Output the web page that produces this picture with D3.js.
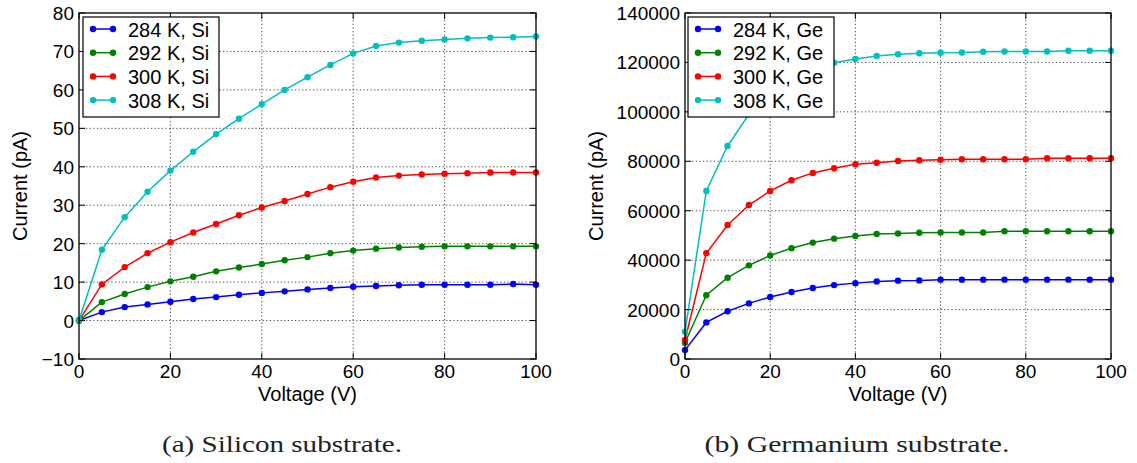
<!DOCTYPE html>
<html>
<head>
  <meta charset="utf-8">
  <title>Current vs voltage</title>
</head>
<style>
  body, html { margin: 0; padding: 0; background: #fff; }
  svg text { fill: #000; }
</style>
<body>
<svg id="svg" width="1137" height="463"></svg>
<script src="https://d3js.org/d3.v7.min.js"></script>
<script>
  // data
  const voltage = [0, 5, 10, 15, 20, 25, 30, 35, 40, 45, 50, 55, 60, 65, 70, 75, 80, 85, 90, 95, 100]
  const temps = ['284 K', '292 K', '300 K', '308 K']
  const colors = ['#0000ff', '#008000', '#ff0000', '#00bfbf']

  const si284 = [0, 2.2, 3.5, 4.2, 4.9, 5.6, 6.1, 6.7, 7.2, 7.6, 8.1, 8.5, 8.8, 9.0, 9.2, 9.3, 9.3, 9.3, 9.3, 9.5, 9.3]
  const si292 = [0, 4.8, 6.9, 8.7, 10.2, 11.4, 12.8, 13.8, 14.7, 15.7, 16.5, 17.5, 18.2, 18.7, 19.0, 19.2, 19.3, 19.3, 19.3, 19.3, 19.3]
  const si300 = [0, 9.4, 13.9, 17.5, 20.4, 22.9, 25.1, 27.4, 29.4, 31.1, 32.9, 34.7, 36.1, 37.2, 37.7, 38.0, 38.2, 38.3, 38.5, 38.5, 38.5]
  const si308 = [0, 18.4, 26.9, 33.5, 39.0, 43.9, 48.5, 52.5, 56.3, 60.0, 63.3, 66.5, 69.5, 71.4, 72.3, 72.8, 73.1, 73.4, 73.6, 73.7, 73.9]

  const ge284 = [3600, 14800, 19300, 22500, 25100, 27100, 28700, 29900, 30700, 31400, 31700, 31800, 32100, 32100, 32100, 32100, 32100, 32100, 32100, 32100, 32100]
  const ge292 = [6600, 25800, 32900, 37900, 41900, 44800, 47100, 48700, 49800, 50600, 50800, 51100, 51200, 51200, 51200, 51700, 51700, 51700, 51700, 51700, 51700]
  const ge300 = [7700, 42800, 54200, 62300, 68000, 72300, 75300, 77200, 78800, 79400, 80100, 80400, 80600, 80800, 80800, 80800, 80800, 81200, 81200, 81200, 81200]
  const ge308 = [11000, 68000, 86200, 99000, 106500, 111500, 116000, 119900, 121400, 122600, 123300, 123700, 123900, 124000, 124300, 124400, 124400, 124400, 124700, 124700, 124700]

  const xTicks = [0, 20, 40, 60, 80, 100]
  const siTicks = [-10, 0, 10, 20, 30, 40, 50, 60, 70, 80]
  const geTicks = [0, 20000, 40000, 60000, 80000, 100000, 120000, 140000]

  const svg = d3.select('#svg')
  const sans = 'Liberation Sans, Arial, Helvetica, sans-serif'

  function drawPanel(p) {
    const x = d3.scaleLinear().domain([0, 100]).range([p.left, p.right])
    const y = d3.scaleLinear().domain([p.yTicks[0], p.yTicks[p.yTicks.length - 1]]).range([359, 13])
    const g = svg.append('g')

    // grid
    g.selectAll('.gx').data(xTicks.slice(1, -1)).enter().append('line')
      .attr('x1', d => x(d)).attr('x2', d => x(d))
      .attr('y1', y.range()[1]).attr('y2', y.range()[0])
      .attr('stroke', '#444').attr('stroke-width', 1).attr('stroke-dasharray', '1.2,2.4')
    g.selectAll('.gy').data(p.yTicks.slice(1, -1)).enter().append('line')
      .attr('x1', p.left).attr('x2', p.right)
      .attr('y1', d => y(d)).attr('y2', d => y(d))
      .attr('stroke', '#444').attr('stroke-width', 1).attr('stroke-dasharray', '1.2,2.4')

    // lines + markers
    const line = d3.line().x((d, i) => x(voltage[i])).y(d => y(d))
    p.series.forEach((s, k) => {
      g.append('path').attr('d', line(s))
        .attr('fill', 'none').attr('stroke', colors[k]).attr('stroke-width', 1.5)
      g.selectAll(null).data(s).enter().append('circle')
        .attr('cx', (d, i) => x(voltage[i])).attr('cy', d => y(d)).attr('r', 3.2)
        .attr('fill', colors[k])
    })

    // frame + inward ticks on all sides
    g.append('rect').attr('x', p.left).attr('y', 13)
      .attr('width', p.right - p.left).attr('height', 346)
      .attr('fill', 'none').attr('stroke', '#000').attr('stroke-width', 1.3)
    const tl = 6
    xTicks.forEach(t => {
      g.append('line').attr('x1', x(t)).attr('x2', x(t)).attr('y1', 359).attr('y2', 359 - tl).attr('stroke', '#000')
      g.append('line').attr('x1', x(t)).attr('x2', x(t)).attr('y1', 13).attr('y2', 13 + tl).attr('stroke', '#000')
    })
    p.yTicks.forEach(t => {
      g.append('line').attr('x1', p.left).attr('x2', p.left + tl).attr('y1', y(t)).attr('y2', y(t)).attr('stroke', '#000')
      g.append('line').attr('x1', p.right).attr('x2', p.right - tl).attr('y1', y(t)).attr('y2', y(t)).attr('stroke', '#000')
    })

    // tick labels
    g.selectAll('.xl').data(xTicks).enter().append('text')
      .attr('x', d => x(d)).attr('y', 378).attr('text-anchor', 'middle')
      .style('font', '19px ' + sans).text(d => d)
    g.selectAll('.yl').data(p.yTicks).enter().append('text')
      .attr('x', p.left - 5).attr('y', d => y(d) + 7).attr('text-anchor', 'end')
      .style('font', '19px ' + sans).text(d => d3.format('d')(d))

    // axis labels
    g.append('text').attr('x', (p.left + p.right) / 2).attr('y', 401)
      .attr('text-anchor', 'middle').style('font', '20px ' + sans).text('Voltage (V)')
    g.append('text').attr('transform', `translate(${p.ylabX},186) rotate(-90)`)
      .attr('text-anchor', 'middle').style('font', '20px ' + sans).text('Current (pA)')

    // legend
    const lg = g.append('g').attr('transform', `translate(${p.legX},17)`)
    lg.append('rect').attr('width', p.legW).attr('height', 100)
      .attr('fill', '#fff').attr('stroke', '#000').attr('stroke-width', 1.2)
    temps.forEach((t, k) => {
      const yy = 12 + k * 23.7
      lg.append('line').attr('x1', 10).attr('x2', 30).attr('y1', yy).attr('y2', yy)
        .attr('stroke', colors[k]).attr('stroke-width', 1.5)
      lg.append('circle').attr('cx', 10).attr('cy', yy).attr('r', 3.2).attr('fill', colors[k])
      lg.append('circle').attr('cx', 30).attr('cy', yy).attr('r', 3.2).attr('fill', colors[k])
      lg.append('text').attr('x', 45).attr('y', yy + 7.5)
        .style('font', '20px ' + sans).text(t + ', ' + p.mat)
    })

    // caption
    svg.append('text').attr('x', p.capX).attr('y', 452).attr('text-anchor', 'middle')
      .attr('textLength', p.capW).attr('lengthAdjust', 'spacingAndGlyphs')
      .style('font', '23px "Liberation Serif", "DejaVu Serif", serif').style('fill', '#222').text(p.caption)
  }

  drawPanel({
    left: 79, right: 536, yTicks: siTicks, series: [si284, si292, si300, si308],
    mat: 'Si', legX: 83, legW: 136, ylabX: 27, capX: 282, capW: 240, caption: '(a) Silicon substrate.'
  })
  drawPanel({
    left: 685, right: 1111, yTicks: geTicks, series: [ge284, ge292, ge300, ge308],
    mat: 'Ge', legX: 688, legW: 146, ylabX: 603, capX: 857, capW: 305, caption: '(b) Germanium substrate.'
  })
</script>
</body>
</html>
